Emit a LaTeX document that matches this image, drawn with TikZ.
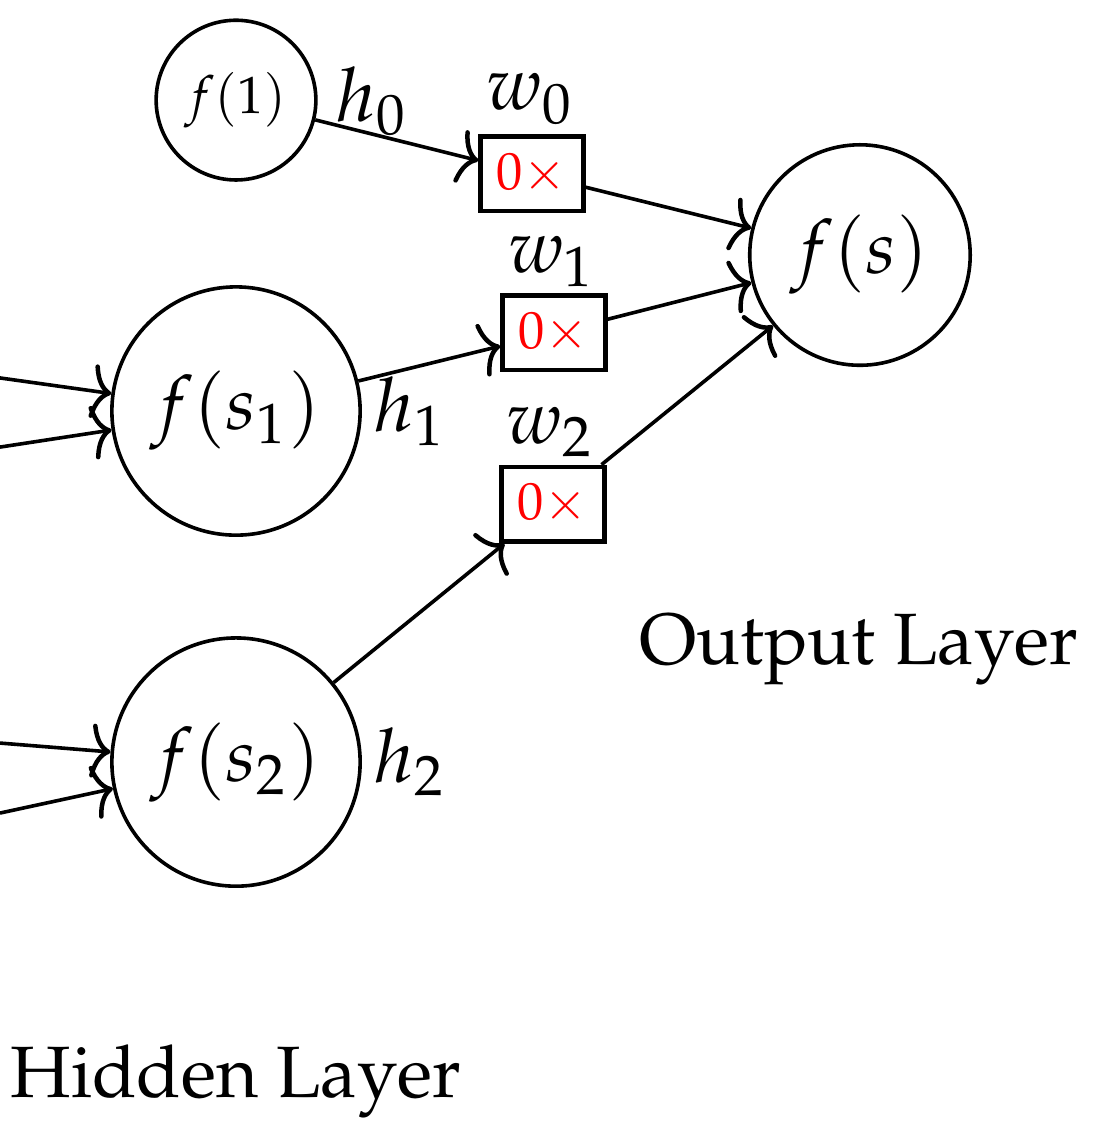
\documentclass[tikz,border=0pt]{standalone}
\usepackage[T1]{fontenc}
\usepackage{mathpazo}
\usetikzlibrary{arrows.meta}

\begin{document}
\begin{tikzpicture}[>={Computer Modern Rightarrow[length=2.6pt,width=7.2pt,line width=0.6pt]},
  neuron/.style={circle,draw,line width=0.48pt,inner sep=1pt,minimum size=33.1pt},
  weightbox/.style={rectangle,draw,line width=0.62pt,inner sep=1pt,minimum width=13.7pt,minimum height=9.9pt,font=\scriptsize,text=red},
  layer/.style={anchor=base,inner sep=0pt,font=\fontsize{9.7pt}{12pt}\selectfont},
  conn/.style={->,line width=0.48pt}]
\useasboundingbox (0,0) rectangle (5.211,-5.300);

\node[neuron,minimum size=21.3pt,font=\scriptsize] (bias) at (1.106,-0.469) {$f(1)$};
\node[neuron] (hid1) at (1.106,-1.926) {$f(s_1)$};
\node[neuron] (hid2) at (1.106,-3.571) {$f(s_2)$};
\node[neuron,minimum size=29.4pt] (out) at (4.030,-1.195) {$f(s)$};

\node[weightbox] (wb0) at (2.493,-0.815) {$0\times$};
\node[weightbox] (wb1) at (2.596,-1.560) {$0\times$};
\node[weightbox] (wb2) at (2.591,-2.362) {$0\times$};

\node[anchor=base west,inner sep=0pt] (h0) at (1.570,-0.567) {$h_0$};
\node[anchor=base west,inner sep=0pt] (h1) at (1.748,-2.020) {$h_1$};
\node[anchor=base west,inner sep=0pt] (h2) at (1.748,-3.665) {$h_2$};
\node[anchor=base,inner sep=0pt] (w0) at (2.488,-0.515) {$w_0$};
\node[anchor=base,inner sep=0pt] (w1) at (2.587,-1.275) {$w_1$};
\node[anchor=base,inner sep=0pt] (w2) at (2.582,-2.076) {$w_2$};

\node[layer] (outlabel) at (4.025,-3.116) {Output Layer};
\node[layer] (hidlabel) at (1.106,-5.141) {Hidden Layer};

% inputs coming from the left
\coordinate (in1a) at (0,-1.771);
\coordinate (in1b) at (0,-2.095);
\coordinate (in2a) at (0,-3.482);
\coordinate (in2b) at (0,-3.810);
\draw[conn] (in1a) -- (hid1);
\draw[conn] (in1b) -- (hid1);
\draw[conn] (in2a) -- (hid2);
\draw[conn] (in2b) -- (hid2);

\draw[conn] (bias) -- (wb0);
\draw[conn] (hid1) -- (wb1);
\draw[conn] (hid2) -- (wb2);
\draw[conn] (wb0) -- (out);
\draw[conn] (wb1) -- (out);
\draw[conn] (wb2) -- (out);
\end{tikzpicture}
\end{document}
